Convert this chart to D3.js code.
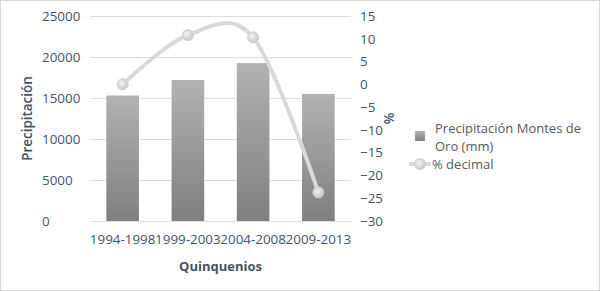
<!DOCTYPE html>
<html>
<head>
<meta charset="utf-8">
<script src="https://cdn.jsdelivr.net/npm/d3@7"></script>
<style>
  body { margin: 0; background: #fff; }
  text { font-family: "Open Sans", sans-serif; }
</style>
</head>
<body>
<div id="chart"></div>
<script>
var quinquenios = ["1994-1998", "1999-2003", "2004-2008", "2009-2013"];
var precipitacion = [15300, 17200, 19250, 15500];
var porcentaje = [0.0, 10.8, 10.3, -23.7];
var leftTicks = [0, 5000, 10000, 15000, 20000, 25000];
var rightTicks = [-30, -25, -20, -15, -10, -5, 0, 5, 10, 15];

var svg = d3.select("#chart").append("svg")
    .attr("width", 600).attr("height", 291);

svg.append("rect")
    .attr("x", 0.5).attr("y", 0.5).attr("width", 599).attr("height", 290)
    .attr("fill", "#fff").attr("stroke", "#d9d9d9");

var margin = {top: 16, left: 90, right: 249, bottom: 70},
    width = 600 - margin.left - margin.right,
    height = 291 - margin.top - margin.bottom,
    g = svg.append("g").attr("transform", "translate(" + margin.left + "," + margin.top + ")");

var defs = svg.append("defs");
var barGrad = defs.append("linearGradient").attr("id", "barGrad")
    .attr("x1", 0).attr("y1", 0).attr("x2", 0).attr("y2", 1);
barGrad.append("stop").attr("offset", "0%").attr("stop-color", "#b2b2b2");
barGrad.append("stop").attr("offset", "100%").attr("stop-color", "#7f7f7f");

var dotGrad = defs.append("radialGradient").attr("id", "dotGrad")
    .attr("cx", "40%").attr("cy", "40%").attr("r", "60%");
dotGrad.append("stop").attr("offset", "0%").attr("stop-color", "#f2f2f2");
dotGrad.append("stop").attr("offset", "100%").attr("stop-color", "#c8c8c8");

var xScale = d3.scaleBand().domain(quinquenios).range([0, width]).paddingInner(0.5).paddingOuter(0.25),
    yLeft = d3.scaleLinear().domain([0, 25000]).range([height, 0]),
    yRight = d3.scaleLinear().domain([-30, 15]).range([height, 0]);

var textColor = "#44546a";
var fs = "13.4px";

// grid
g.append("g").selectAll("line")
    .data(leftTicks)
    .enter().append("line")
    .attr("x1", 0).attr("x2", width)
    .attr("y1", function(d) { return Math.round(yLeft(d)) + 0.5; })
    .attr("y2", function(d) { return Math.round(yLeft(d)) + 0.5; })
    .attr("stroke", "#dadfe7");

// left axis
var axL = g.append("g")
    .call(d3.axisLeft(yLeft).tickValues(leftTicks).tickFormat(d3.format("d")).tickSize(0).tickPadding(9));
axL.select(".domain").remove();
axL.selectAll("text").attr("text-anchor", "start").attr("x", -48)
    .style("font-size", fs).attr("fill", textColor);

// right axis
var axR = g.append("g").attr("transform", "translate(" + width + ",0)")
    .call(d3.axisRight(yRight).tickValues(rightTicks).tickSize(0).tickPadding(9));
axR.select(".domain").remove();
axR.selectAll("text").style("font-size", fs).attr("fill", textColor);

// bottom labels
var axB = g.append("g").attr("transform", "translate(0," + height + ")")
    .call(d3.axisBottom(xScale).tickSize(0).tickPadding(13));
axB.select(".domain").remove();
axB.selectAll("text").style("font-size", fs).attr("fill", textColor);

// bars
g.selectAll(".bar")
    .data(precipitacion)
    .enter().append("rect")
    .attr("class", "bar")
    .attr("x", function(d, i) { return xScale(quinquenios[i]); })
    .attr("y", function(d) { return yLeft(d); })
    .attr("width", xScale.bandwidth())
    .attr("height", function(d) { return height - yLeft(d); })
    .attr("fill", "url(#barGrad)");

// line
var pts = porcentaje.map(function(v, i) {
  return [xScale(quinquenios[i]) + xScale.bandwidth() / 2, yRight(v)];
});
var line = d3.line().curve(d3.curveCardinal.tension(0));
g.append("path")
    .attr("d", line(pts))
    .attr("fill", "none")
    .attr("stroke", "#d9d9d9")
    .attr("stroke-width", 4)
    .attr("stroke-linecap", "round");

g.selectAll(".dot")
    .data(pts)
    .enter().append("circle")
    .attr("class", "dot")
    .attr("cx", function(d) { return d[0]; })
    .attr("cy", function(d) { return d[1]; })
    .attr("r", 5.5)
    .attr("fill", "url(#dotGrad)")
    .attr("stroke", "#cfcfcf")
    .attr("stroke-width", 1);

// titles
svg.append("text")
    .attr("transform", "translate(32," + (margin.top + height / 2) + ") rotate(-90)")
    .attr("text-anchor", "middle")
    .style("font-size", fs).style("font-weight", "600")
    .attr("fill", textColor)
    .text("Precipitación");

svg.append("text")
    .attr("transform", "translate(394," + (margin.top + height / 2) + ") rotate(-90)")
    .attr("text-anchor", "middle")
    .style("font-size", fs).style("font-weight", "600")
    .attr("fill", textColor)
    .text("%");

svg.append("text")
    .attr("x", margin.left + width / 2).attr("y", 271)
    .attr("text-anchor", "middle")
    .style("font-size", "13px").style("font-weight", "bold")
    .attr("fill", textColor)
    .text("Quinquenios");

// legend
var leg = svg.append("g");
leg.append("rect")
    .attr("x", 415).attr("y", 131).attr("width", 10).attr("height", 10)
    .attr("fill", "url(#barGrad)");
leg.append("text").attr("x", 435).attr("y", 133)
    .style("font-size", "13px").attr("fill", "#595959")
    .text("Precipitación Montes de");
leg.append("text").attr("x", 435).attr("y", 151)
    .style("font-size", "13px").attr("fill", "#595959")
    .text("Oro (mm)");
leg.append("line")
    .attr("x1", 409).attr("x2", 431).attr("y1", 164).attr("y2", 164)
    .attr("stroke", "#d9d9d9").attr("stroke-width", 4);
leg.append("circle")
    .attr("cx", 420).attr("cy", 164).attr("r", 5.5)
    .attr("fill", "url(#dotGrad)").attr("stroke", "#cfcfcf");
leg.append("text").attr("x", 432).attr("y", 169)
    .style("font-size", "13px").attr("fill", "#595959")
    .text("% decimal");
</script>
</body>
</html>
